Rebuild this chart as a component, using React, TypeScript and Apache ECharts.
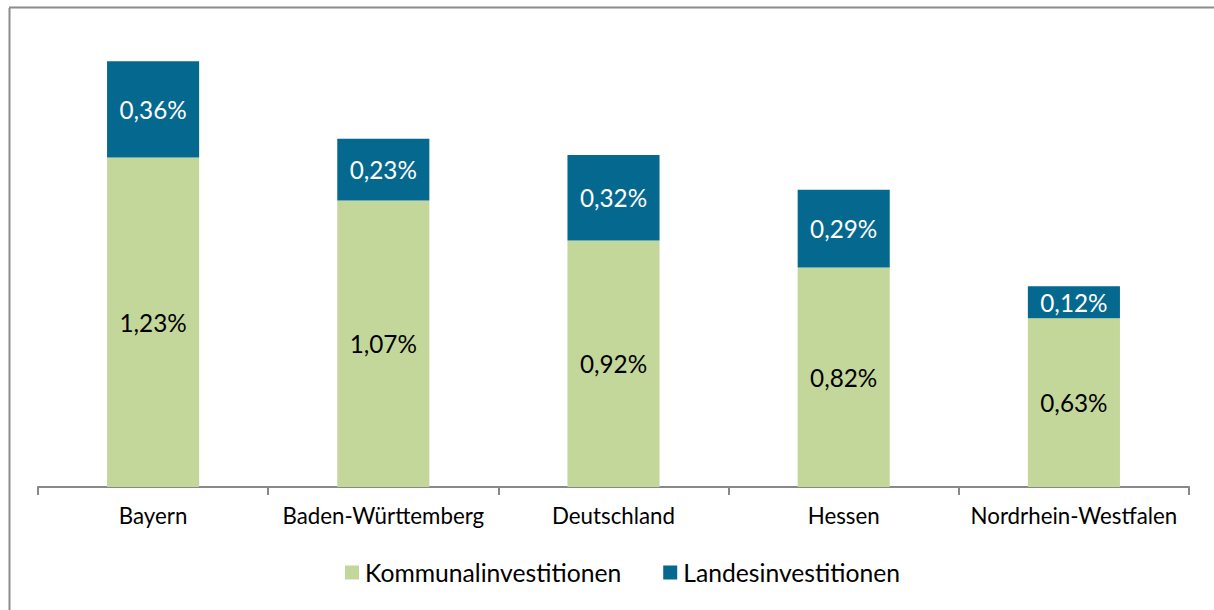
import React, { useEffect, useRef } from "react";
import * as echarts from "echarts";

const categories = ["Bayern", "Baden-Württemberg", "Deutschland", "Hessen", "Nordrhein-Westfalen"];
const kommunal = [1.23, 1.07, 0.92, 0.82, 0.63];
const landes = [0.36, 0.23, 0.32, 0.29, 0.12];
const seriesNames = ["Kommunalinvestitionen", "Landesinvestitionen"];

const FONT = "Lato, 'Open Sans', sans-serif";
const fmt = (v: number) => v.toFixed(2).replace(".", ",") + "%";

export default function App() {
  const ref = useRef<HTMLDivElement>(null);
  useEffect(() => {
    if (!ref.current) return;
    const chart = echarts.init(ref.current, null, { renderer: "svg" });
    chart.setOption({
      animation: false,
      backgroundColor: "#ffffff",
      textStyle: { fontFamily: FONT },
      graphic: [
        { type: "line", shape: { x1: 9.5, y1: 8, x2: 9.5, y2: 610 }, style: { stroke: "#8c8c8c", lineWidth: 2 } },
        { type: "line", shape: { x1: 9, y1: 7.5, x2: 1214, y2: 7.5 }, style: { stroke: "#8c8c8c", lineWidth: 2 } },
      ],
      legend: {
        bottom: 20,
        left: 340,
        itemWidth: 14,
        itemHeight: 14,
        itemGap: 42,
        icon: "rect",
        textStyle: { fontFamily: FONT, fontSize: 24.7, color: "#000", padding: [0, 0, 0, 1] },
        data: seriesNames,
      },
      grid: { left: 38, right: 25, top: 58.5, bottom: 123 },
      xAxis: {
        type: "category",
        data: categories,
        axisLine: { lineStyle: { color: "#888888", width: 2 } },
        axisTick: { show: true, interval: 0, length: 8, lineStyle: { color: "#888888", width: 2 } },
        axisLabel: { interval: 0, color: "#000", fontFamily: FONT, fontSize: 22.3, margin: 17 },
      },
      yAxis: {
        type: "value",
        min: 0,
        max: 1.6,
        show: false,
        splitLine: { show: false },
      },
      series: [
        {
          name: seriesNames[0],
          type: "bar",
          stack: "total",
          barWidth: "40%",
          data: kommunal,
          itemStyle: { color: "#c4d79b" },
          label: {
            show: true,
            position: "inside",
            color: "#000",
            fontFamily: FONT,
            fontSize: 24.3,
            formatter: (p: any) => fmt(p.value),
          },
        },
        {
          name: seriesNames[1],
          type: "bar",
          stack: "total",
          barWidth: "40%",
          data: landes,
          itemStyle: { color: "#05688f" },
          label: {
            show: true,
            position: "inside",
            color: "#fff",
            fontFamily: FONT,
            fontSize: 24.3,
            formatter: (p: any) => fmt(p.value),
          },
        },
      ],
    });
    return () => chart.dispose();
  }, []);
  return <div ref={ref} style={{ position: "fixed", left: 0, top: 0, width: 1214, height: 610 }} />;
}
